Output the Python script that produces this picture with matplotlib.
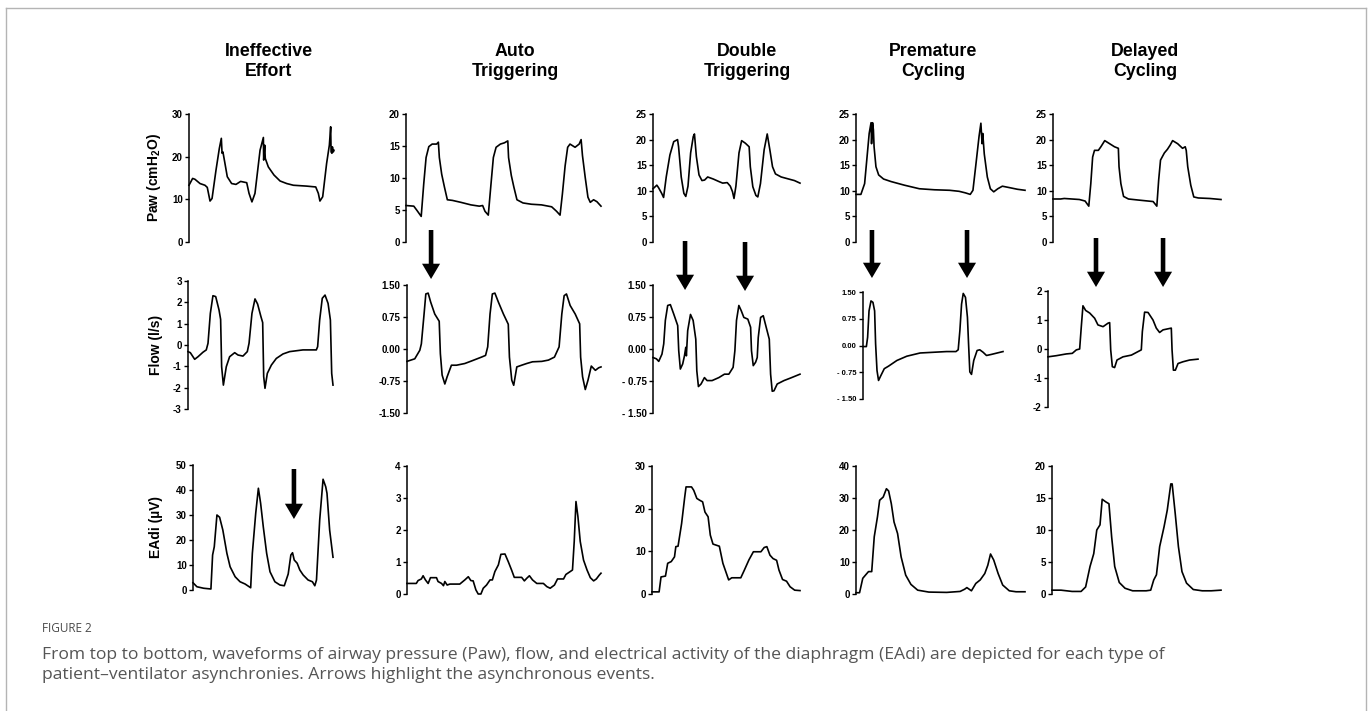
import matplotlib
matplotlib.use("Agg")
import matplotlib.pyplot as plt
from matplotlib.lines import Line2D
from matplotlib.transforms import blended_transform_factory

W, H = 1372, 711

plt.rcParams['font.family'] = ['Liberation Sans', 'DejaVu Sans']
plt.rcParams['font.weight'] = 'bold'
plt.rcParams['axes.unicode_minus'] = False
plt.rcParams['mathtext.fontset'] = 'custom'
plt.rcParams['mathtext.rm'] = 'Liberation Sans:bold'
plt.rcParams['mathtext.it'] = 'Liberation Sans:bold'
plt.rcParams['mathtext.bf'] = 'Liberation Sans:bold'

titles = ['Ineffective\nEffort', 'Auto\nTriggering', 'Double\nTriggering',
          'Premature\nCycling', 'Delayed\nCycling']
ylabels = ['Paw (cmH$_2$O)', 'Flow (l/s)', 'EAdi (µV)']

# ---- Ineffective effort ----
ie_paw_t = [0, 2.5, 4.1, 7.6, 11, 12.6, 14.5, 15.9, 18.6, 20.9, 22.3, 22.8, 23.4, 24.6, 26.4,
            29.4, 32.4, 35.6, 39.8, 41.4, 43.4, 45.5, 49, 51.3, 51.5, 52.2, 52.6, 54.7, 58.6,
            62.8, 67.4, 72, 81.1, 87.4, 89.2, 90.3, 92.2, 94.9, 96.8, 97.7, 98, 98.6, 98.9, 99.5, 100]
ie_paw = [13.3, 14.9, 14.7, 13.7, 13.3, 12.8, 9.6, 10.2, 16.8, 21.9, 24.3, 20.8, 21.1, 18.8, 15.3,
          13.7, 13.5, 14.2, 13.9, 11.4, 9.4, 11.4, 21.5, 24.5, 19.2, 22.7, 19.6, 17.6, 15.7,
          14.3, 13.7, 13.3, 13.1, 12.9, 11.4, 9.6, 10.6, 18.4, 22.7, 27, 21.1, 20.8, 22.3, 21.1, 21.5]
ie_flow_t = [0, 1.6, 4.6, 6.9, 10.3, 12.6, 13.8, 15.4, 17.2, 19.1, 21.4, 22.5, 23.2, 24.4, 26.4,
             28.7, 32.2, 34.5, 37.9, 40.9, 42.1, 44.1, 46.2, 48, 50.3, 51.5, 52.2, 53.1, 54.7,
             57.5, 60.9, 65.5, 70.1, 79.3, 88.5, 89.4, 90.8, 92.6, 94.5, 96.6, 98.2, 99.1, 100]
ie_flow = [-0.31, -0.36, -0.67, -0.55, -0.34, -0.23, 0.08, 1.48, 2.31, 2.27, 1.64, 1.2, -1.02, -1.88, -1.02,
           -0.55, -0.36, -0.47, -0.52, -0.31, 0.08, 1.48, 2.16, 1.92, 1.33, 1.05, -1.48, -2.03, -1.33,
           -0.94, -0.63, -0.42, -0.31, -0.23, -0.23, -0.08, 1.17, 2.19, 2.34, 1.95, 1.17, -1.33, -1.88]
ie_eadi_t = [0, 2.8, 7.6, 12.8, 14, 15.2, 17.1, 19, 21.3, 24.2, 26.5, 30.1, 33.6, 37.2, 41.2, 42.4,
             44.8, 46.7, 48.3, 50.2, 52.6, 55, 58.5, 62.1, 65.2, 68, 69.9, 71.1, 72.3, 74.4, 76.3,
             78.7, 82.2, 85.3, 87, 88.2, 90.5, 92.9, 94.8, 95.7, 97.6, 100]
ie_eadi = [2.9, 1.3, 0.7, 0.4, 14, 17.3, 30, 29.1, 24, 14.7, 9.3, 5.3, 3.3, 2.4, 0.9, 14.7,
           30.7, 40.7, 34.7, 25.3, 14.7, 7.3, 3.3, 2, 1.7, 6.4, 14, 14.9, 12, 10.7, 8,
           6, 4, 3.3, 1.7, 4, 28, 44.3, 41.3, 38.7, 24, 13.1]

# ---- Auto triggering ----
at_paw_t = [0, 4, 5.7, 7.8, 9.1, 10.3, 11.7, 13.4, 15.7, 16.6, 17.1, 18.3, 19.7, 21.2, 23.8, 28.1,
            33.3, 37.6, 39.3, 40.5, 42.2, 43.6, 44.8, 46.2, 48.4, 50.5, 52.2, 52.6, 54, 55.3, 56.9,
            60, 64.3, 69.5, 74.7, 77.2, 79, 80.2, 81.6, 82.9, 84.1, 86.7, 88.8, 89.8, 90.5, 91.9,
            93.3, 94.5, 96.2, 97.9, 100]
at_paw = [5.7, 5.6, 4.9, 4, 9.1, 13.2, 14.9, 15.3, 15.3, 15.6, 13.2, 10.6, 8.6, 6.6, 6.5, 6.2,
          5.8, 5.6, 5.7, 4.8, 4.2, 9.1, 13.2, 14.8, 15.3, 15.5, 15.8, 13.2, 10.4, 8.6, 6.6,
          6.1, 5.9, 5.8, 5.5, 4.8, 4.2, 7.5, 11.9, 14.8, 15.3, 14.8, 15.3, 16, 13.5, 10.1,
          7, 6.2, 6.6, 6.3, 5.6]
at_flow_t = [0, 4, 6.6, 7.4, 8.8, 9.7, 10.9, 12.2, 14.3, 16.6, 17.2, 18.1, 19.5, 20.7, 22.9, 25.5,
             29.8, 33.3, 38.4, 40.5, 41.6, 42.8, 44, 45.3, 47.1, 49.7, 52.2, 52.8, 54, 55, 56.6,
             59.1, 61.7, 64.7, 69.5, 72.9, 76, 78.4, 79.8, 81, 82.2, 84.1, 86.7, 89, 89.5, 90.5,
             91.9, 93.3, 95, 97.1, 98.8, 100]
at_flow = [-0.29, -0.23, -0.03, 0.12, 0.82, 1.29, 1.31, 1.1, 0.82, 0.65, -0.11, -0.61, -0.82, -0.65, -0.38, -0.38,
           -0.34, -0.28, -0.19, -0.15, 0.05, 0.82, 1.29, 1.31, 1.1, 0.82, 0.58, -0.19, -0.73, -0.85, -0.42,
           -0.38, -0.34, -0.3, -0.29, -0.26, -0.19, 0.05, 0.82, 1.25, 1.29, 1.02, 0.82, 0.59, -0.19, -0.65,
           -0.95, -0.73, -0.4, -0.5, -0.44, -0.42]
at_eadi_t = [0, 4.8, 5.7, 7.4, 8.3, 9.5, 10.9, 12.1, 15.2, 16, 17.8, 18.8, 19.5, 20.7, 22.1, 27.2,
             29.8, 31.6, 32.9, 34.1, 35.5, 36.7, 38.1, 39.3, 41, 42.8, 44, 45.3, 47.1, 48.4, 50.5,
             52.2, 53.9, 55.3, 59.1, 60.5, 61.7, 63.1, 64.7, 66.9, 70.3, 72.1, 73.8, 76, 77.6, 80.7,
             81.9, 84.1, 85.3, 86.2, 87.1, 88.1, 89.3, 91, 92.8, 94.5, 96.2, 97.6, 99.1, 100]
at_eadi = [0.33, 0.33, 0.42, 0.47, 0.57, 0.44, 0.33, 0.51, 0.51, 0.39, 0.33, 0.26, 0.39, 0.28, 0.31, 0.31,
           0.44, 0.54, 0.42, 0.41, 0.13, 0, 0, 0.18, 0.28, 0.44, 0.44, 0.7, 0.91, 1.24, 1.25,
           1.01, 0.75, 0.52, 0.52, 0.41, 0.49, 0.57, 0.44, 0.33, 0.33, 0.23, 0.18, 0.28, 0.47, 0.47,
           0.61, 0.7, 0.75, 1.64, 2.89, 2.42, 1.64, 1.06, 0.75, 0.51, 0.41, 0.47, 0.59, 0.65]

# ---- Double triggering ----
dt_paw_t = [0, 2.6, 3.8, 5.9, 7.2, 9, 11.5, 14.1, 16.7, 17.4, 19.2, 21, 22.3, 23.8, 25.6, 27.4,
            28.2, 29.5, 31.3, 33.3, 35.1, 37.2, 41, 44.9, 47.4, 50.5, 52.6, 54.1, 55.1, 56.4, 58.5,
            60.3, 62.8, 65.4, 66.2, 67.9, 70, 71.3, 73.1, 75.6, 77.7, 79.5, 81.3, 83.3, 87.2, 92.3,
            96.2, 100]
dt_paw = [10.4, 11.1, 10.6, 9.5, 8.7, 12.7, 17, 19.6, 20, 18.6, 12.7, 9.5, 8.9, 10.9, 17.4, 20.6,
          21.1, 16.7, 13.1, 12, 12.1, 12.7, 12.3, 11.8, 11.5, 11.6, 10.9, 9.8, 8.5, 10.9, 17.4,
          19.8, 19.3, 18.6, 14.7, 10.8, 9.1, 8.8, 11.4, 18, 21.1, 18, 14.7, 13.3, 12.7, 12.3,
          12, 11.5]
dt_flow_t = [0, 2.3, 3.9, 6.1, 7.3, 8.4, 10, 11.8, 14.1, 16.8, 17.5, 18.6, 20.2, 21.4, 22.3, 22.7,
             23.6, 25.5, 27.3, 29.1, 29.8, 30.9, 32.7, 35, 36.8, 40.2, 44.8, 48.6, 51.6, 54.5, 55.7,
             56.8, 58.4, 60, 61.8, 64.5, 66.4, 67, 68.2, 69.8, 70.9, 71.6, 73.2, 75, 77, 79.1, 80,
             81.1, 82.3, 84.5, 89.1, 93.6, 100]
dt_flow = [-0.2, -0.23, -0.29, -0.12, 0.12, 0.67, 1.02, 1.04, 0.82, 0.55, -0.04, -0.47, -0.35, -0.16, 0.04, -0.16,
           0.43, 0.81, 0.67, 0.23, -0.51, -0.88, -0.82, -0.67, -0.74, -0.74, -0.67, -0.59, -0.59, -0.43, -0.04,
           0.67, 1.02, 0.9, 0.74, 0.7, 0.51, -0.04, -0.39, -0.31, -0.2, 0.27, 0.74, 0.78, 0.51, 0.23, -0.59,
           -0.99, -0.98, -0.82, -0.74, -0.68, -0.59]
dt_eadi_t = [0, 4.8, 6.1, 9.1, 10.6, 13, 15.2, 16.1, 17.6, 20, 22.1, 23, 26.7, 28.2, 30.3, 32.1,
             34.2, 35.8, 37.9, 39.4, 41.2, 45.5, 47.9, 50.3, 51.8, 53.9, 60, 62.4, 65.5, 68.5, 73.6,
             75.8, 77.6, 79.7, 81.8, 84.2, 85.8, 88.2, 90.9, 93.3, 96.4, 100]
dt_eadi = [0.5, 0.5, 4, 4.2, 7.2, 7.6, 8.7, 11.1, 11.2, 16.5, 22.7, 25.1, 25.1, 24.3, 22.4, 22,
           21.6, 19.2, 18.1, 13.8, 11.7, 11.2, 7.2, 4.8, 3.3, 3.8, 3.8, 5.6, 8, 9.9, 9.9,
           10.9, 11.1, 9.1, 8.3, 7.9, 5.6, 3.4, 3, 1.7, 0.9, 0.8]

# ---- Premature cycling ----
pc_paw_t = [0, 2.9, 5.1, 6.7, 7.8, 8.9, 9.2, 9.8, 10.3, 10.7, 11.8, 13.4, 16.3, 20.8, 28.6, 37.5,
            46.4, 55.4, 61, 64.7, 67.6, 69.2, 71, 72.8, 73.9, 74.6, 75, 75.9, 77.7, 79.5, 81.5,
            83.9, 86.6, 91.1, 95.5, 100]
pc_paw = [9.3, 9.3, 11.4, 17.2, 21.2, 23.3, 19.2, 23.3, 21.9, 18.6, 14.7, 13.1, 12.3, 11.8, 11.1, 10.4,
          10.2, 10.1, 9.9, 9.6, 9.3, 10.1, 15.3, 20.6, 23.2, 19.2, 21.2, 17.2, 12.7, 10.4, 9.8,
          10.4, 10.9, 10.6, 10.3, 10.1]
pc_flow_t = [0, 2.4, 3.3, 4.3, 5.7, 7.1, 8.3, 9, 10, 11.1, 12.8, 15.2, 18.2, 24.2, 31.3, 40.8,
             50.2, 59.7, 66.4, 68, 69.2, 70.4, 71.6, 73.2, 74.6, 75.4, 76.3, 77.5, 79.1, 81.5, 83.4,
             85.8, 88.2, 91.7, 100]
pc_flow = [-0.03, -0.03, 0.23, 0.97, 1.25, 1.21, 0.97, 0.05, -0.7, -0.98, -0.84, -0.65, -0.58, -0.42, -0.3, -0.21,
           -0.19, -0.17, -0.17, -0.12, 0.42, 1.16, 1.46, 1.35, 0.79, 0.05, -0.74, -0.81, -0.42, -0.14, -0.12,
           -0.19, -0.28, -0.25, -0.17]
pc_eadi_t = [0, 2.1, 4, 5.6, 7.4, 9.3, 10.8, 12.7, 14, 16.1, 18, 19.3, 20.9, 22.5, 24.6, 26.7,
             29.4, 32.5, 36.5, 43.1, 53.7, 61.6, 64.3, 65.6, 68.3, 70.9, 73.5, 76.2, 78, 79.6, 81.5,
             84.1, 86.8, 90.7, 94.7, 100]
pc_eadi = [0.4, 0.4, 4.9, 5.9, 7, 7, 17.9, 24.1, 29.3, 30.3, 32.9, 32.2, 28.2, 22.5, 18.9, 11.6,
           5.9, 3, 1.2, 0.6, 0.5, 0.8, 1.5, 2, 1, 3.3, 4.4, 6.4, 9, 12.5, 10.6,
           6.4, 2.8, 1, 0.7, 0.7]

# ---- Delayed cycling ----
dc_paw_t = [0, 4.5, 6.7, 15.7, 19.1, 21.3, 22.5, 23.6, 24.7, 27, 28.5, 30.8, 33.7, 36.6, 38.9, 39.3,
            40.4, 42, 44.9, 50.6, 59.6, 61.8, 62.9, 64, 66.3, 68.1, 69.7, 71.2, 74.2, 77.1, 78.7,
            79.3, 80.2, 82, 83.8, 86.5, 93.3, 100]
dc_paw = [8.4, 8.4, 8.5, 8.3, 8, 7, 11.4, 16.6, 17.9, 17.9, 18.6, 19.8, 19.2, 18.6, 18.3, 14.7,
          11.4, 8.9, 8.4, 8.2, 7.9, 7, 12.1, 16, 17.4, 18.1, 18.9, 19.8, 19.2, 18.3, 18.6,
          17.9, 14.7, 11.1, 8.8, 8.6, 8.5, 8.3]
dc_flow_t = [0, 5.6, 12.2, 16.2, 18.9, 21.1, 22.2, 23.3, 25.1, 27.8, 31.1, 33.3, 36.7, 40, 41.1, 41.8,
             42.9, 44.4, 46, 50, 55.6, 60, 62.2, 62.9, 64.4, 66.7, 70, 72.2, 74.4, 76.7, 82.2,
             82.7, 83.6, 84.9, 86.7, 90, 94.4, 100]
dc_flow = [-0.27, -0.23, -0.17, -0.15, -0.03, 0, 0.77, 1.49, 1.33, 1.24, 1.06, 0.83, 0.77, 0.89, 0.91, -0.03,
           -0.61, -0.64, -0.38, -0.27, -0.21, -0.09, -0.03, 0.6, 1.27, 1.26, 1, 0.72, 0.57, 0.66, 0.72,
           -0.03, -0.73, -0.73, -0.5, -0.44, -0.38, -0.35]
dc_eadi_t = [0, 5.3, 11.9, 17.2, 19.9, 22.5, 24.7, 26.5, 28.4, 29.7, 31.8, 33.7, 35.3, 37.1, 39.8, 43.2,
             47.7, 55.7, 58.4, 60.2, 61.8, 63.7, 66.3, 68.2, 70.3, 71.1, 72.9, 74.8, 76.9, 79.6, 83.6,
             88.9, 94.2, 100]
dc_eadi = [0.6, 0.6, 0.4, 0.4, 1.1, 4.3, 6.3, 10, 10.8, 14.8, 14.4, 14.1, 8.9, 4.3, 1.8, 0.9,
           0.5, 0.5, 0.6, 2.2, 3, 7.4, 10.5, 13.1, 17.2, 17.2, 12.6, 7.4, 3.5, 1.7, 0.7,
           0.5, 0.5, 0.6]

traces = [
    [(ie_paw_t, ie_paw), (ie_flow_t, ie_flow), (ie_eadi_t, ie_eadi)],
    [(at_paw_t, at_paw), (at_flow_t, at_flow), (at_eadi_t, at_eadi)],
    [(dt_paw_t, dt_paw), (dt_flow_t, dt_flow), (dt_eadi_t, dt_eadi)],
    [(pc_paw_t, pc_paw), (pc_flow_t, pc_flow), (pc_eadi_t, pc_eadi)],
    [(dc_paw_t, dc_paw), (dc_flow_t, dc_flow), (dc_eadi_t, dc_eadi)],
]

# y ticks per column, per row
yticks = [
    [[0, 10, 20, 30], [-3, -2, -1, 0, 1, 2, 3], [0, 10, 20, 30, 40, 50]],
    [[0, 5, 10, 15, 20], [-1.5, -0.75, 0, 0.75, 1.5], [0, 1, 2, 3, 4]],
    [[0, 5, 10, 15, 20, 25], [-1.5, -0.75, 0, 0.75, 1.5], [0, 10, 20, 30]],
    [[0, 5, 10, 15, 20, 25], [-1.5, -0.75, 0, 0.75, 1.5], [0, 10, 20, 30, 40]],
    [[0, 5, 10, 15, 20, 25], [-2, -1, 0, 1, 2], [0, 5, 10, 15, 20]],
]
flow_labels = {
    1: ['-1.50', '-0.75', '0.00', '0.75', '1.50'],
    2: ['- 1.50', '- 0.75', '0.00', '0.75', '1.50'],
    3: ['- 1.50', '- 0.75', '0.00', '0.75', '1.50'],
}

# arrows: (column, row, time, tail y px, tip y px)
arrows = [
    (0, 2, 72.1, 469, 519),
    (1, 1, 12.4, 230, 279),
    (2, 1, 21.8, 241, 290),
    (2, 1, 62.6, 242, 291),
    (3, 1, 6.4, 230, 278),
    (3, 1, 74.3, 230, 278),
    (4, 1, 32.0, 238, 287),
    (4, 1, 76.7, 238, 287),
]

# axes boxes in pixels: x0, x1, y_top, y_bottom
boxes = [
    [(189, 334, 114, 242), (188, 333, 281, 409), (193, 333, 465, 590)],
    [(406, 601, 114, 242), (407, 601, 285, 413), (407, 601, 466, 594)],
    [(653, 800, 114, 242), (653, 800, 285, 413), (652, 800, 466, 594)],
    [(856, 1025, 114, 242), (863, 1003, 292, 399), (856, 1025, 466, 594)],
    [(1053, 1221, 114, 242), (1048, 1198, 291, 407), (1052, 1221, 466, 594)],
]
title_x = [269, 515, 747, 933, 1145]

fig = plt.figure(figsize=(W / 100, H / 100), dpi=100)

axes = {}
for c in range(5):
    for r in range(3):
        x0, x1, y0, y1 = boxes[c][r]
        ax = fig.add_axes([x0 / W, 1 - y1 / H, (x1 - x0) / W, (y1 - y0) / H])
        axes[(c, r)] = ax
        t, v = traces[c][r]
        ax.plot(t, v, color='black', lw=1.2, clip_on=False, solid_joinstyle='round')
        ax.set_xlim(0, 100)
        ticks = yticks[c][r]
        ax.set_ylim(ticks[0], ticks[-1])
        ax.set_yticks(ticks)
        if r == 1 and c in flow_labels:
            ax.set_yticklabels(flow_labels[c])
        ax.set_xticks([])
        for s in ['top', 'right', 'bottom']:
            ax.spines[s].set_visible(False)
        ax.spines['left'].set_linewidth(1.1)
        fs = 5.5 if (c == 3 and r == 1) else 7
        ax.tick_params(axis='y', direction='out', length=3, width=1.0, pad=1.5,
                       labelsize=fs)
        for lab in ax.get_yticklabels():
            lab.set_fontweight('bold')
        ax.patch.set_visible(False)
        if c == 0:
            ax.set_ylabel(ylabels[r], fontsize=10, fontweight='bold')
            ax.yaxis.set_label_coords((163 - x0) / (x1 - x0), 0.5)

# column titles
for c in range(5):
    fig.text(title_x[c] / W, 1 - 61.5 / H, titles[c], ha='center', va='center',
             fontsize=12.8, fontweight='bold', linespacing=1.3)

# arrows
for c, r, t, ytail, ytip in arrows:
    ax = axes[(c, r)]
    tr = blended_transform_factory(ax.transData, fig.transFigure)
    ax.annotate('', xy=(t, 1 - ytip / H), xytext=(t, 1 - ytail / H),
                xycoords=tr, textcoords=tr, annotation_clip=False,
                arrowprops=dict(arrowstyle='simple,head_length=1.1,head_width=1.3,tail_width=0.33',
                                fc='black', ec='black', lw=0, mutation_scale=10,
                                shrinkA=0, shrinkB=0))

# frame around the figure
frame_kw = dict(color='#b4b4b4', lw=1.0, transform=fig.transFigure)
fig.add_artist(Line2D([6 / W, 1366 / W], [1 - 8 / H, 1 - 8 / H], **frame_kw))
fig.add_artist(Line2D([6 / W, 6 / W], [1 - 8 / H, 0], **frame_kw))
fig.add_artist(Line2D([1366 / W, 1366 / W], [1 - 8 / H, 0], **frame_kw))

# caption
cap_font = ['Open Sans', 'DejaVu Sans']
fig.text(42 / W, 1 - 629 / H, 'FIGURE 2', ha='left', va='center', fontsize=8.5,
         color='#4a4a4a', family=cap_font, fontweight='normal')
fig.text(42 / W, 1 - 655 / H,
         'From top to bottom, waveforms of airway pressure (Paw), flow, and electrical activity '
         'of the diaphragm (EAdi) are depicted for each type of',
         ha='left', va='center', fontsize=12.6, color='#555555', family=cap_font,
         fontweight='normal')
fig.text(42 / W, 1 - 675 / H,
         'patient\u2013ventilator asynchronies. Arrows highlight the asynchronous events.',
         ha='left', va='center', fontsize=12.6, color='#555555', family=cap_font,
         fontweight='normal')

fig.savefig('out.png', dpi=100)
